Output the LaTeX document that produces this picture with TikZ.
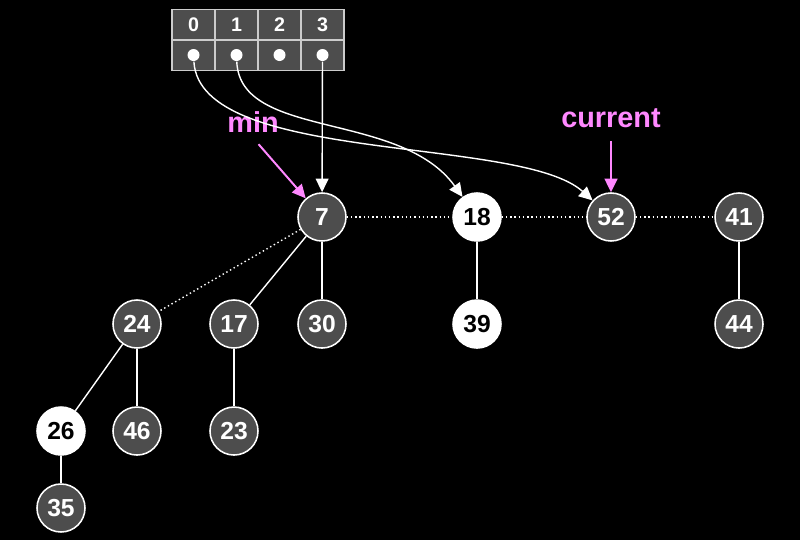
\documentclass[tikz,border=0pt]{standalone}
\usepackage{fontspec}
\setmainfont{Liberation Sans}
\usepackage{tikz}
\usetikzlibrary{arrows.meta,positioning}
\definecolor{marker}{RGB}{255,136,255}
\definecolor{keygray}{RGB}{77,77,77}

\begin{document}
\begin{tikzpicture}[x=0.025cm,y=-0.025cm,>={Triangle[length=0.34cm,width=0.32cm]},
                    line width=1pt,node distance=2.675cm]
  \tikzstyle{key}=[circle,draw=white,fill=keygray,text=white,minimum size=1.2cm,
                   inner sep=0pt,line width=1.1pt,font=\bfseries\fontsize{17.5}{18}\selectfont]
  \tikzstyle{marked}=[key,fill=white,text=black]
  \tikzstyle{cell}=[draw=gray!40!white,fill=keygray,minimum width=1.075cm,minimum height=0.76cm,
                    inner sep=0pt,text=white,font=\bfseries\fontsize{14}{14}\selectfont]
  \tikzstyle{ptr}=[circle,fill=white,minimum size=0.3cm,inner sep=0pt]
  \tikzstyle{label}=[text=marker,font=\bfseries\fontsize{20.5}{21}\selectfont]

  \fill[black] (0,0) rectangle (800,540);
  \useasboundingbox (0,0) rectangle (800,540);

  % degree table
  \foreach \i in {0,...,3} {
    \node[cell] (h\i) at (193.5+43*\i,24.5) {\i};
    \node[cell] (c\i) at (193.5+43*\i,55) {};
    \node[ptr]  (d\i) at (193.5+43*\i,55) {};
  }

  % root list
  \node[key]    (n7)  at (322,217) {7};
  \node[marked] (n18) at (477,217) {18};
  \node[key]    (n52) at (611,217) {52};
  \node[key]    (n41) at (739,217) {41};

  % children
  \node[key]    (n24) at (137,324) {24};
  \node[key]    (n17) at (234,324) {17};
  \node[key]    (n30) [below of=n7]  {30};
  \node[marked] (n39) [below of=n18] {39};
  \node[key]    (n44) [below of=n41] {44};
  \node[marked] (n26) at (61,431)    {26};
  \node[key]    (n46) [below of=n24] {46};
  \node[key]    (n23) [below of=n17] {23};
  \node[key]    (n35) at (61,508)    {35};

  \node[label] (min) at (253,122) {min};
  \node[label] (cur) at (611,118) {current};

  \path[white,dotted] (n7) edge (n18)
        (n18) edge (n52)
        (n52) edge (n41)
        (n7) edge (n24);
  \path[white] (n7) edge (n17)
        (n7) edge (n30)
        (n18) edge (n39)
        (n41) edge (n44)
        (n24) edge (n26)
        (n24) edge (n46)
        (n17) edge (n23)
        (n26) edge (n35);

  \draw[->,white] (d3) -- (n7);
  \draw[->,white] (d1) .. controls (240,140) and (400,110) .. (n18);
  \draw[->,white] (d0) .. controls (200,165) and (520,135) .. (n52);

  \draw[->,marker,line width=1.4pt,shorten <=6pt] (min.south) -- (n7);
  \draw[->,marker,line width=1.4pt,shorten <=6pt] (cur) -- (n52);
\end{tikzpicture}
\end{document}
